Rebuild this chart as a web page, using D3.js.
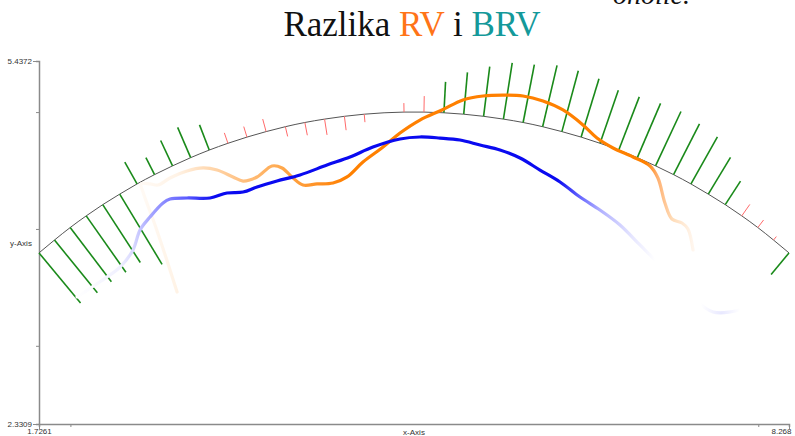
<!DOCTYPE html>
<html lang="hr">
<head>
<meta charset="UTF-8">
<title>Razlika RV i BRV</title>
<script src="https://d3js.org/d3.v7.min.js"></script>
<style>
    html, body { margin: 0; padding: 0; overflow: hidden; background: #fff; }
    .axis text { font-family: "Liberation Sans", Arial, sans-serif; font-size: 8px; fill: #333; }
    .axis path, .axis line { stroke: #8a8a8a; }
</style>
</head>
<body>
<svg id="chart" width="795" height="436"></svg>
<script>
// axis ranges and ticks
const xDomain = [1.7261, 8.268];
const yDomain = [2.3309, 5.4372];
const xTickValues = [1.7261, 2, 8, 8.268];
const yTickValues = [2.3309, 3, 4, 5, 5.4372];

// reference arc: base points of the difference ticks
const arcX = [1.7261, 1.861, 1.998, 2.138, 2.282, 2.430, 2.581, 2.734, 2.891, 3.049,
              3.211, 3.374, 3.540, 3.707, 3.875, 4.045, 4.217, 4.390, 4.563, 4.736,
              4.910, 5.084, 5.258, 5.431, 5.604, 5.777, 5.949, 6.119, 6.287, 6.455,
              6.620, 6.783, 6.945, 7.104, 7.261, 7.413, 7.564, 7.712, 7.856, 7.996,
              8.133, 8.268];
const arcY = [3.795, 3.905, 4.012, 4.112, 4.208, 4.298, 4.385, 4.465, 4.540, 4.610,
              4.675, 4.733, 4.786, 4.833, 4.875, 4.911, 4.940, 4.964, 4.982, 4.994,
              5.000, 5.000, 4.994, 4.982, 4.964, 4.940, 4.911, 4.875, 4.833, 4.786,
              4.733, 4.675, 4.610, 4.540, 4.465, 4.385, 4.298, 4.208, 4.112, 4.012,
              3.905, 3.795];
// signed difference at each arc point (positive = outward)
const tickDiff = [-0.65, -0.68, -0.68, -0.69, -0.69, -0.82, 0.25, 0.19, 0.28, 0.33,
                  0.27, 0.11, 0.11, 0.13, -0.10, -0.13, -0.16, -0.14, -0.08, 0.0,
                  0.09, 0.16, 0.31, 0.42, 0.50, 0.57, 0.59, 0.63, 0.63, 0.61,
                  0.56, 0.57, 0.59, 0.60, 0.57, 0.54, 0.43, 0.28, 0.14, 0.095,
                  0.045, -0.28];

// RV (orange)
const rvX = [2.930, 2.869, 2.738, 2.633, 2.616, 2.694, 2.764, 2.869, 3.017, 3.157,
             3.279, 3.418, 3.506, 3.628, 3.758, 3.846, 3.942, 4.029, 4.151, 4.291,
             4.413, 4.552, 4.727, 4.875, 5.049, 5.241, 5.424, 5.599, 5.773, 5.948,
             6.122, 6.297, 6.471, 6.593, 6.733, 6.907, 7.056, 7.125, 7.186, 7.247,
             7.335, 7.387, 7.431];
const rvY = [3.460, 3.649, 4.034, 4.316, 4.385, 4.385, 4.376, 4.436, 4.496, 4.522,
             4.504, 4.445, 4.410, 4.445, 4.539, 4.522, 4.436, 4.376, 4.385, 4.393,
             4.445, 4.573, 4.701, 4.821, 4.932, 5.018, 5.104, 5.138, 5.146, 5.138,
             5.095, 5.018, 4.890, 4.778, 4.693, 4.616, 4.539, 4.436, 4.222, 4.085,
             4.051, 4.000, 3.820];

// BRV (blue)
const brvX = [2.058, 2.188, 2.319, 2.433, 2.546, 2.607, 2.694, 2.808, 2.869, 3.017,
              3.218, 3.366, 3.506, 3.628, 3.802, 4.003, 4.238, 4.439, 4.639, 4.875,
              5.049, 5.224, 5.398, 5.573, 5.747, 5.922, 6.096, 6.271, 6.445, 6.619,
              6.794, 6.968, 7.186, 7.404, 7.605, 7.841];
const brvY = [3.418, 3.503, 3.589, 3.674, 3.820, 3.991, 4.102, 4.222, 4.256, 4.265,
              4.265, 4.308, 4.316, 4.359, 4.410, 4.462, 4.547, 4.616, 4.701, 4.770,
              4.787, 4.778, 4.761, 4.718, 4.676, 4.607, 4.504, 4.402, 4.273, 4.162,
              4.034, 3.863, 3.649, 3.435, 3.289, 3.306];

const svg = d3.select("#chart");
const margin = {top: 61, right: 6, bottom: 12, left: 39};
const W = +svg.attr("width"), H = +svg.attr("height");

const x = d3.scaleLinear().domain(xDomain).range([margin.left, W - margin.right]);
const y = d3.scaleLinear().domain(yDomain).range([H - margin.bottom, margin.top]);
const tickLen = d3.scaleLinear().domain([0, 1]).range([0, 100]);

// title
const title = svg.append("text")
    .attr("x", 412).attr("y", 36)
    .attr("text-anchor", "middle")
    .style("font-family", "'Liberation Serif', 'Times New Roman', serif")
    .style("font-size", "35px");
title.append("tspan").attr("fill", "#111").text("Razlika ");
title.append("tspan").attr("fill", "#ff7417").text("RV");
title.append("tspan").attr("fill", "#111").text(" i ");
title.append("tspan").attr("fill", "#14999a").text("BRV");

// leftover text that the top edge cuts, as in the source picture
svg.append("text")
    .attr("x", 613).attr("y", 4)
    .style("font-family", "'Liberation Serif', serif")
    .style("font-style", "italic")
    .style("font-size", "28px")
    .attr("fill", "#111")
    .text("oholic.");

// axes
const yAxis = svg.append("g").attr("class", "axis")
    .attr("transform", `translate(${margin.left},0)`)
    .call(d3.axisLeft(y).tickValues(yTickValues).tickSizeOuter(0).tickSize(3)
        .tickFormat(d => yDomain.includes(d) ? d : ""));
yAxis.selectAll(".tick line").attr("x2", d => yDomain.includes(d) ? -6 : -3);
yAxis.selectAll(".tick text").attr("x", -7);
yAxis.select(".domain").attr("stroke-width", 1.5);

const xAxis = svg.append("g").attr("class", "axis")
    .attr("transform", `translate(0,${H - margin.bottom})`)
    .call(d3.axisBottom(x).tickValues(xTickValues).tickSizeOuter(0).tickSize(3)
        .tickFormat(d => xDomain.includes(d) ? d : ""));
xAxis.selectAll(".tick line").attr("y2", d => xDomain.includes(d) ? 5 : 3);
xAxis.selectAll(".tick text").attr("y", 4)
    .attr("dx", d => d === xDomain[1] ? -8 : 0);
xAxis.select(".domain").attr("stroke-width", 1.5);

svg.append("text")
    .attr("x", 21).attr("y", (y.range()[0] + y.range()[1]) / 2 + 3)
    .attr("text-anchor", "middle")
    .style("font-family", "'Liberation Sans', Arial, sans-serif")
    .style("font-size", "8px").attr("fill", "#333")
    .text("y-Axis");
svg.append("text")
    .attr("x", (x.range()[0] + x.range()[1]) / 2).attr("y", H - 1)
    .attr("text-anchor", "middle")
    .style("font-family", "'Liberation Sans', Arial, sans-serif")
    .style("font-size", "8px").attr("fill", "#333")
    .text("x-Axis");

// arc and difference ticks
const pts = arcX.map((d, i) => [x(d), y(arcY[i])]);
svg.append("path")
    .datum(pts)
    .attr("fill", "none")
    .attr("stroke", "#555")
    .attr("stroke-width", 1)
    .attr("d", d3.line().curve(d3.curveNatural));

const ticks = tickDiff.map((v, i) => {
    const a = pts[Math.max(0, i - 1)], b = pts[Math.min(pts.length - 1, i + 1)];
    const tx = b[0] - a[0], ty = b[1] - a[1], n = Math.hypot(tx, ty);
    const L = tickLen(v);
    return {x0: pts[i][0], y0: pts[i][1], x1: pts[i][0] + ty / n * L, y1: pts[i][1] - tx / n * L, v: v};
});
svg.append("g").selectAll("line")
    .data(ticks.filter(d => d.v !== 0))
    .join("line")
    .attr("x1", d => d.x0).attr("y1", d => d.y0)
    .attr("x2", d => d.x1).attr("y2", d => d.y1)
    .attr("stroke", d => Math.abs(d.v) >= 0.175 ? "#1a8a1a" : "#ff6a6a")
    .attr("stroke-width", d => Math.abs(d.v) >= 0.175 ? 1.6 : 1);

// fading gradients along x
const defs = svg.append("defs");
function fade(id, stops) {
    const g = defs.append("linearGradient").attr("id", id)
        .attr("gradientUnits", "userSpaceOnUse")
        .attr("x1", x.range()[0]).attr("x2", x.range()[1])
        .attr("y1", 0).attr("y2", 0);
    stops.forEach(s => g.append("stop")
        .attr("offset", (x(s[0]) - x.range()[0]) / (x.range()[1] - x.range()[0]))
        .attr("stop-color", s[1]));
}
fade("rvFade", [[2.60, "#fffaf5"], [2.93, "#fff3e6"], [3.16, "#ffdcb8"], [3.50, "#ffc080"],
                [3.85, "#ffa84c"], [4.15, "#ff9226"], [4.40, "#ff8000"], [7.02, "#ff8000"],
                [7.12, "#ffb070"], [7.25, "#ffdcb8"], [7.43, "#fff6ee"]]);
fade("brvFade", [[2.06, "#ffffff"], [2.43, "#f0f0ff"], [2.55, "#d8d8ff"], [2.69, "#a8a8ff"],
                 [3.02, "#5a5aff"], [3.25, "#0a0af0"], [6.25, "#0a0af0"], [6.45, "#6868ff"],
                 [6.62, "#b0b0ff"], [6.90, "#e6e6ff"], [7.10, "#ffffff"], [7.50, "#ffffff"],
                 [7.68, "#e8e8ff"], [7.84, "#ffffff"]]);

const line = d3.line().x(d => x(d[0])).y(d => y(d[1])).curve(d3.curveCatmullRom);
svg.append("path")
    .datum(rvX.map((d, i) => [d, rvY[i]]))
    .attr("fill", "none")
    .attr("stroke", "url(#rvFade)")
    .attr("stroke-width", 3.2)
    .attr("stroke-linejoin", "round")
    .attr("stroke-linecap", "round")
    .attr("d", line);
svg.append("path")
    .datum(brvX.map((d, i) => [d, brvY[i]]))
    .attr("fill", "none")
    .attr("stroke", "url(#brvFade)")
    .attr("stroke-width", 3.2)
    .attr("stroke-linejoin", "round")
    .attr("stroke-linecap", "round")
    .attr("d", line);
</script>
</body>
</html>
